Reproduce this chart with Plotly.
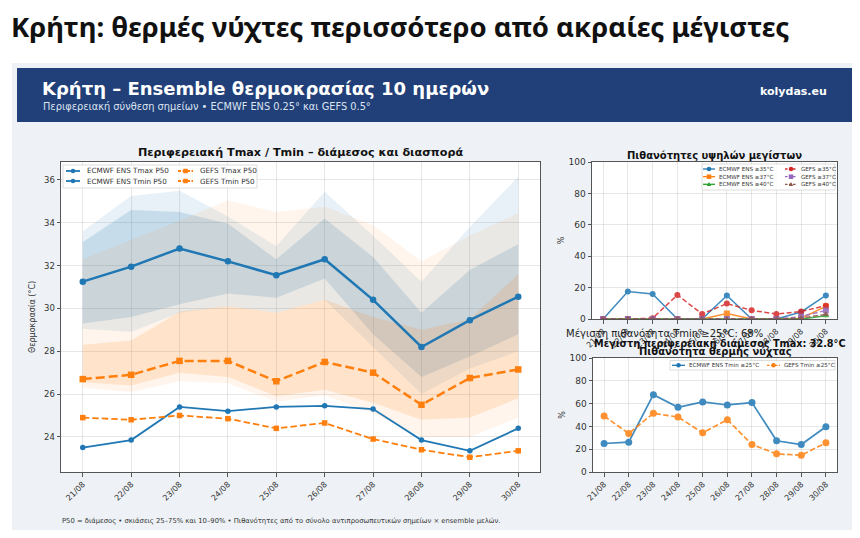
import plotly.graph_objects as go

# ---------------- data ----------------
dates = ["21/08", "22/08", "23/08", "24/08", "25/08", "26/08", "27/08", "28/08", "29/08", "30/08"]

ecmwf_tmax_p50 = [31.25, 31.95, 32.8, 32.2, 31.55, 32.3, 30.4, 28.2, 29.45, 30.55]
ecmwf_tmin_p50 = [23.5, 23.85, 25.4, 25.2, 25.4, 25.45, 25.3, 23.85, 23.35, 24.4]
gefs_tmax_p50 = [26.7, 26.9, 27.55, 27.55, 26.6, 27.5, 27.0, 25.5, 26.75, 27.15]
gefs_tmin_p50 = [24.9, 24.8, 25.0, 24.85, 24.4, 24.65, 23.9, 23.4, 23.05, 23.35]

ecmwf_tmax_p90 = [33.6, 35.25, 35.5, 34.3, 32.9, 35.45, 33.4, 31.25, 33.8, 36.15]
ecmwf_tmax_p75 = [33.1, 34.6, 34.5, 33.95, 32.3, 34.2, 32.4, 29.8, 31.8, 33.0]
ecmwf_tmax_p25 = [29.3, 29.6, 30.2, 30.7, 30.5, 31.4, 28.8, 26.8, 27.75, 28.8]
ecmwf_tmax_p10 = [29.05, 28.9, 29.8, 30.1, 29.8, 30.4, 28.2, 26.0, 27.2, 28.0]

gefs_tmax_p90 = [32.3, 33.2, 34.1, 35.05, 34.5, 34.75, 33.9, 32.2, 33.4, 34.45]
gefs_tmax_p75 = [28.3, 28.5, 29.85, 30.1, 29.8, 30.4, 29.6, 29.0, 29.5, 31.6]
gefs_tmax_p25 = [26.55, 26.4, 27.0, 26.8, 25.9, 26.2, 25.6, 24.8, 24.9, 25.8]
gefs_tmax_p10 = [26.3, 26.1, 26.6, 26.5, 25.65, 25.95, 25.1, 24.0, 24.0, 24.9]

ecmwf_ge35 = [0, 17.5, 16, 0, 0, 15, 0, 0, 4.5, 15]
ecmwf_ge37 = [0, 0, 0, 0, 0, 3.5, 0, 0, 0.5, 8]
ecmwf_ge40 = [0, 0, 0, 0, 0, 0, 0, 0, 0, 2]
gefs_ge35 = [0, 0, 0.5, 15.3, 3.2, 9.8, 5.5, 3.2, 4.8, 8.5]
gefs_ge37 = [0, 0, 0, 0, 0, 0, 0, 0, 1.5, 5.5]
gefs_ge40 = [0, 0, 0, 0, 0, 0, 0, 0, 0.5, 3]

ecmwf_tmin_ge25 = [25, 26.2, 67.8, 56.8, 61.5, 58.8, 60.9, 27.4, 24.1, 39.7]
gefs_tmin_ge25 = [49.1, 33.8, 51.5, 48.2, 34.4, 45.9, 24.1, 15.9, 14.7, 25.6]

y_ticks_main = [24, 26, 28, 30, 32, 34, 36]
y_ticks_prob = [0, 20, 40, 60, 80, 100]

# ---------------- style ----------------
W, H = 860, 538
OFF = 8  # page body margin in the browser
BLUE, ORANGE = "#1f77b4", "#ff7f0e"
GREEN, RED, PURPLE, BROWN = "#2ca02c", "#d62728", "#9467bd", "#8c564b"
FONT = "DejaVu Sans"
PANEL = "#eef2f6"


def px(x):
    return (x - OFF) / W


def py(y):
    return 1 - (y - OFF) / H


def rgba(hexc, a):
    h = hexc.lstrip("#")
    return "rgba(%d,%d,%d,%s)" % (int(h[0:2], 16), int(h[2:4], 16), int(h[4:6], 16), a)


fig = go.Figure()


# ---- main panel: bands ----
def band(lo, hi, color, alpha):
    fig.add_trace(go.Scatter(x=dates, y=lo, mode="lines", line=dict(width=0, color=color),
                             showlegend=False, hoverinfo="skip", xaxis="x", yaxis="y"))
    fig.add_trace(go.Scatter(x=dates, y=hi, mode="lines", line=dict(width=0, color=color),
                             fill="tonexty", fillcolor=rgba(color, alpha),
                             showlegend=False, hoverinfo="skip", xaxis="x", yaxis="y"))


band(ecmwf_tmax_p10, ecmwf_tmax_p90, BLUE, 0.10)
band(ecmwf_tmax_p25, ecmwf_tmax_p75, BLUE, 0.17)
band(gefs_tmax_p10, gefs_tmax_p90, ORANGE, 0.08)
band(gefs_tmax_p25, gefs_tmax_p75, ORANGE, 0.15)

main_lines = [
    ("ECMWF ENS Tmax P50", ecmwf_tmax_p50, BLUE, "solid", "circle", 2.5, 6.5),
    ("ECMWF ENS Tmin P50", ecmwf_tmin_p50, BLUE, "solid", "circle", 1.8, 5.5),
    ("GEFS Tmax P50", gefs_tmax_p50, ORANGE, "9px,4px", "square", 2.5, 6.5),
    ("GEFS Tmin P50", gefs_tmin_p50, ORANGE, "6.5px,3px", "square", 1.8, 5.5),
]
for name, ys, c, d, s, lw, ms in main_lines:
    fig.add_trace(go.Scatter(x=dates, y=ys, name=name, mode="lines+markers",
                             line=dict(color=c, width=lw, dash=d),
                             marker=dict(symbol=s, size=ms, color=c),
                             showlegend=False, xaxis="x", yaxis="y"))

# ---- top-right: high max probabilities ----
prob_lines = [
    ("ECMWF ENS ≥35°C", ecmwf_ge35, BLUE, "solid", "circle"),
    ("ECMWF ENS ≥37°C", ecmwf_ge37, ORANGE, "solid", "square"),
    ("ECMWF ENS ≥40°C", ecmwf_ge40, GREEN, "solid", "triangle-up"),
    ("GEFS ≥35°C", gefs_ge35, RED, "5px,2.5px", "circle"),
    ("GEFS ≥37°C", gefs_ge37, PURPLE, "5px,2.5px", "square"),
    ("GEFS ≥40°C", gefs_ge40, BROWN, "5px,2.5px", "triangle-up"),
]
for name, ys, c, d, s in prob_lines:
    fig.add_trace(go.Scatter(x=dates, y=ys, name=name, mode="lines+markers",
                             line=dict(color=c, width=1.5, dash=d),
                             marker=dict(symbol=s, size=6, color=c),
                             opacity=0.85, showlegend=False, xaxis="x2", yaxis="y2"))

# ---- bottom-right: warm nights ----
night_lines = [
    ("ECMWF ENS Tmin ≥25°C", ecmwf_tmin_ge25, BLUE, "solid"),
    ("GEFS Tmin ≥25°C", gefs_tmin_ge25, ORANGE, "5.5px,2.5px"),
]
for name, ys, c, d in night_lines:
    fig.add_trace(go.Scatter(x=dates, y=ys, name=name, mode="lines+markers",
                             line=dict(color=c, width=1.7, dash=d),
                             marker=dict(symbol="circle", size=7, color=c),
                             opacity=0.85, showlegend=False, xaxis="x3", yaxis="y3"))


# ---------------- axes ----------------
def axis_common(**kw):
    d = dict(showline=True, linecolor="#555", linewidth=1, mirror=True,
             ticks="outside", ticklen=3.5, tickcolor="#555", tickwidth=0.8,
             showgrid=True, gridcolor="rgba(176,176,176,0.3)", gridwidth=0.8,
             zeroline=False, automargin=False,
             tickfont=dict(family=FONT, size=8.5, color="#333"))
    d.update(kw)
    return d


def xdom(a, b):
    return [px(a), px(b)]


def ydom(top, bottom):
    return [py(bottom), py(top)]


xcat = dict(type="category", categoryorder="array", categoryarray=dates,
            range=[-0.45, 9.45], tickangle=-45)

layout_axes = dict(
    xaxis=axis_common(domain=xdom(61, 540), anchor="y", **xcat),
    yaxis=axis_common(domain=ydom(162, 472), anchor="x", range=[22.36, 36.84],
                      tickvals=y_ticks_main,
                      title=dict(text="Θερμοκρασία (°C)", font=dict(family=FONT, size=8, color="#333"), standoff=7)),
    xaxis2=axis_common(domain=xdom(592, 837), anchor="y2", **xcat),
    yaxis2=axis_common(domain=ydom(162, 319), anchor="x2", range=[0, 100],
                       tickvals=y_ticks_prob,
                       title=dict(text="%", font=dict(family=FONT, size=8, color="#333"), standoff=2)),
    xaxis3=axis_common(domain=xdom(593, 837), anchor="y3", **xcat),
    yaxis3=axis_common(domain=ydom(358, 472), anchor="x3", range=[0, 100],
                       tickvals=y_ticks_prob,
                       title=dict(text="%", font=dict(family=FONT, size=8, color="#333"), standoff=2)),
)
for k in ("xaxis", "xaxis2", "xaxis3"):
    layout_axes[k]["tickfont"] = dict(family=FONT, size=8, color="#333")
for k in ("yaxis2", "yaxis3"):
    layout_axes[k]["tickfont"] = dict(family=FONT, size=9, color="#333")

shapes = []
annotations = []

# white page outside the grey image panel, and the navy banner
for (x0, x1, y0, y1) in [(0, 870, 0, 63), (0, 12, 0, 560), (858, 870, 0, 560), (0, 870, 530, 560)]:
    shapes.append(dict(type="rect", xref="paper", yref="paper", x0=px(x0), x1=px(x1), y0=py(y1), y1=py(y0),
                       fillcolor="white", line=dict(width=0), layer="below"))
shapes.append(dict(type="rect", xref="paper", yref="paper", x0=px(17), x1=px(855), y0=py(122), y1=py(68),
                   fillcolor="#213f78", line=dict(width=0), layer="below"))


def text(x, y, s, size, color="#222", bold=False, xanchor="center", family=FONT, angle=0):
    annotations.append(dict(xref="paper", yref="paper", x=px(x), y=py(y), text=("<b>%s</b>" % s) if bold else s,
                            showarrow=False, xanchor=xanchor, yanchor="middle", textangle=angle,
                            font=dict(family=family, size=size, color=color)))


text(9, 27, "Κρήτη: θερμές νύχτες περισσότερο από ακραίες μέγιστες", 27.5, "#111", True, "left", "Noto Sans")
text(40, 88, "Κρήτη – Ensemble θερμοκρασίας 10 ημερών", 18, "#ffffff", True, "left")
text(41, 107, "Περιφερειακή σύνθεση σημείων • ECMWF ENS 0.25° και GEFS 0.5°", 9.8, "#dce4f0", False, "left")
text(829, 91, "kolydas.eu", 11, "#ffffff", True, "right")
text(300, 153, "Περιφερειακή Tmax / Tmin – διάμεσος και διασπορά", 11.2, "#111", True)
text(714, 155, "Πιθανότητες υψηλών μεγίστων", 10, "#111", True)
text(664, 333, "Μέγιστη πιθανότητα Tmin ≥25°C: 68%", 10, "#222", False)
text(720, 343, "Μέγιστη περιφερειακή διάμεσος Tmax: 32.8°C", 9.7, "#111", True)
text(715, 351, "Πιθανότητα θερμής νύχτας", 10, "#111", True)
text(60, 521, "P50 = διάμεσος • σκιάσεις 25–75% και 10–90% • Πιθανότητες από το σύνολο αντιπροσωπευτικών σημείων × ensemble μελών.",
     6.8, "#333", False, "left")


# ---------------- compact legends ----------------
def legend_box(x0, x1, y0, y1):
    shapes.append(dict(type="rect", xref="paper", yref="paper", x0=px(x0), x1=px(x1), y0=py(y1), y1=py(y0),
                       fillcolor="rgba(255,255,255,0.85)", line=dict(color="#d4d4d4", width=0.8), layer="above"))


def legend_key(x0, x1, y, color, dash, symbol, ms, lw, label, fsize, gap=4):
    shapes.append(dict(type="line", xref="paper", yref="paper", x0=px(x0), x1=px(x1), y0=py(y), y1=py(y),
                       line=dict(color=color, width=lw, dash=dash), layer="above"))
    xc = (x0 + x1) / 2
    r = ms / 2
    if symbol == "circle":
        shapes.append(dict(type="circle", xref="paper", yref="paper", x0=px(xc - r), x1=px(xc + r),
                           y0=py(y + r), y1=py(y - r), fillcolor=color, line=dict(width=0), layer="above"))
    elif symbol == "square":
        shapes.append(dict(type="rect", xref="paper", yref="paper", x0=px(xc - r), x1=px(xc + r),
                           y0=py(y + r), y1=py(y - r), fillcolor=color, line=dict(width=0), layer="above"))
    else:
        path = "M %f %f L %f %f L %f %f Z" % (px(xc), py(y - r), px(xc - r), py(y + r * 0.8), px(xc + r), py(y + r * 0.8))
        shapes.append(dict(type="path", xref="paper", yref="paper", path=path,
                           fillcolor=color, line=dict(width=0), layer="above"))
    text(x1 + gap, y, label, fsize, "#333", False, "left")


# main legend (2 columns)
legend_box(63, 257, 165, 188)
mcols = [(66, 80), (178, 193)]
mrows = [171, 181]
order = [(0, 0), (0, 1), (1, 0), (1, 1)]
for (name, ys, c, d, s, lw, ms), (ci, ri) in zip(main_lines, order):
    legend_key(mcols[ci][0], mcols[ci][1], mrows[ri], c, "solid" if d == "solid" else "3px,1.5px", s, 4.5, 1.8,
               name, 7.2, 5)

# top-right legend (2 columns x 3 rows)
legend_box(702, 835, 164, 190)
pcols = [(703, 715), (785, 797)]
prows = [169, 176.7, 184.3]
for i, (name, ys, c, d, s) in enumerate(prob_lines):
    legend_key(pcols[i // 3][0], pcols[i // 3][1], prows[i % 3], c, "solid" if d == "solid" else "2.5px,1.5px",
               s, 4.5, 1.3, name, 5.6, 2)

# bottom-right legend (1 row)
legend_box(670, 835, 360.5, 370)
ncols = [(672, 685), (767, 780)]
for (name, ys, c, d), (a, b) in zip(night_lines, ncols):
    legend_key(a, b, 365.3, c, "solid" if d == "solid" else "2.5px,1.5px", "circle", 4.5, 1.3, name, 5.6, 2)

fig.update_layout(
    width=W, height=H, margin=dict(l=0, r=0, t=0, b=0, autoexpand=False),
    paper_bgcolor=PANEL, plot_bgcolor="white",
    showlegend=False, hovermode=False,
    shapes=shapes, annotations=annotations,
    font=dict(family=FONT, color="#333"),
    **layout_axes,
)

fig.write_html("out.html")
